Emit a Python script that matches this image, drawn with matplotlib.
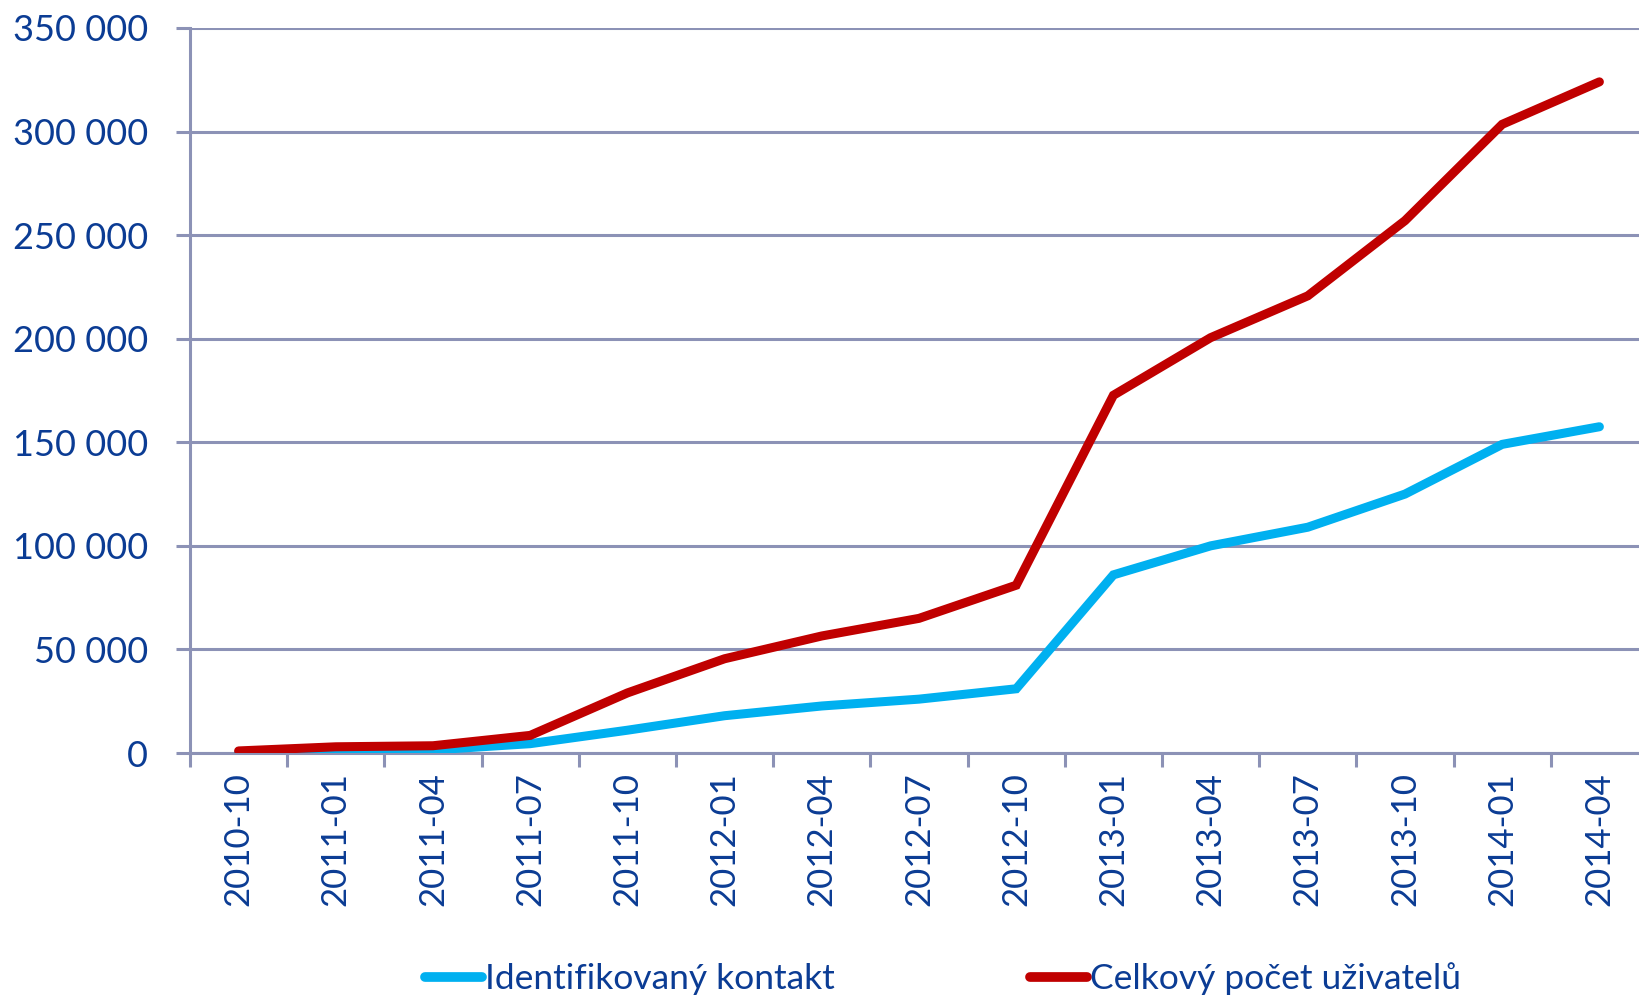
import matplotlib
matplotlib.use("Agg")
import matplotlib.pyplot as plt
import numpy as np
from matplotlib.ticker import FuncFormatter, FixedLocator

categories = ["2010-10", "2011-01", "2011-04", "2011-07", "2011-10", "2012-01",
              "2012-04", "2012-07", "2012-10", "2013-01", "2013-04", "2013-07",
              "2013-10", "2014-01", "2014-04"]
identifikovany = [0, 1000, 1500, 4500, 11000, 18000, 22700, 26000, 31000,
                  86000, 100000, 109000, 125000, 149000, 157500]
celkovy = [1000, 3000, 3500, 8500, 29000, 45500, 56500, 65000, 81000,
           172700, 200500, 220700, 257000, 303500, 324000]
series_names = ["Identifikovaný kontakt", "Celkový počet uživatelů"]

TEXT = "#0B3C94"
GRID = "#8C92B6"
BLUE = "#00B0F0"
RED = "#C00000"

plt.rcParams['font.family'] = ['Lato', 'DejaVu Sans']

fig = plt.figure(figsize=(16.39, 9.97), dpi=100)
ax = fig.add_axes([190/1639, 244/997, (1648-190)/1639, (969-244)/997])

x = np.arange(len(categories))
ax.plot(x, identifikovany, color=BLUE, lw=6.5, solid_capstyle='round',
        solid_joinstyle='miter', label=series_names[0], zorder=3)
ax.plot(x, celkovy, color=RED, lw=6.5, solid_capstyle='round',
        solid_joinstyle='miter', label=series_names[1], zorder=4)

ax.set_xlim(-0.5, len(categories) - 0.5)
ax.set_ylim(0, 350000)
ax.set_yticks(np.arange(0, 350001, 50000))
ax.yaxis.set_major_formatter(FuncFormatter(lambda v, p: f"{int(v):,}".replace(",", " ")))
ax.yaxis.grid(True, color=GRID, lw=2.2)
ax.set_axisbelow(True)

ax.xaxis.set_major_locator(FixedLocator(np.arange(-0.5, len(categories), 1.0)))
ax.xaxis.set_major_formatter(FuncFormatter(lambda v, p: ""))
ax.xaxis.set_minor_locator(FixedLocator(x))
ax.set_xticklabels(categories, minor=True)

for s in ["top", "right"]:
    ax.spines[s].set_visible(False)
for s in ["left", "bottom"]:
    ax.spines[s].set_color(GRID)
    ax.spines[s].set_linewidth(2.2)

ax.tick_params(axis='y', which='major', length=10, width=2.2, color=GRID,
               labelsize=26, labelcolor=TEXT, pad=20)
ax.tick_params(axis='x', which='major', length=10, width=2.2, color=GRID, direction='out')
ax.tick_params(axis='x', which='minor', length=0, labelsize=25, labelcolor=TEXT,
               labelrotation=90, pad=14)

leg = fig.legend(loc='center', bbox_to_anchor=(0.5755, 1 - 979/997), ncol=2,
                 frameon=False, fontsize=25.5, handlelength=1.6, handletextpad=0.1,
                 columnspacing=5.5, labelcolor=TEXT)
for h in leg.legend_handles:
    h.set_linewidth(7)
    h.set_solid_capstyle('round')

fig.savefig("out.png", dpi=100)
